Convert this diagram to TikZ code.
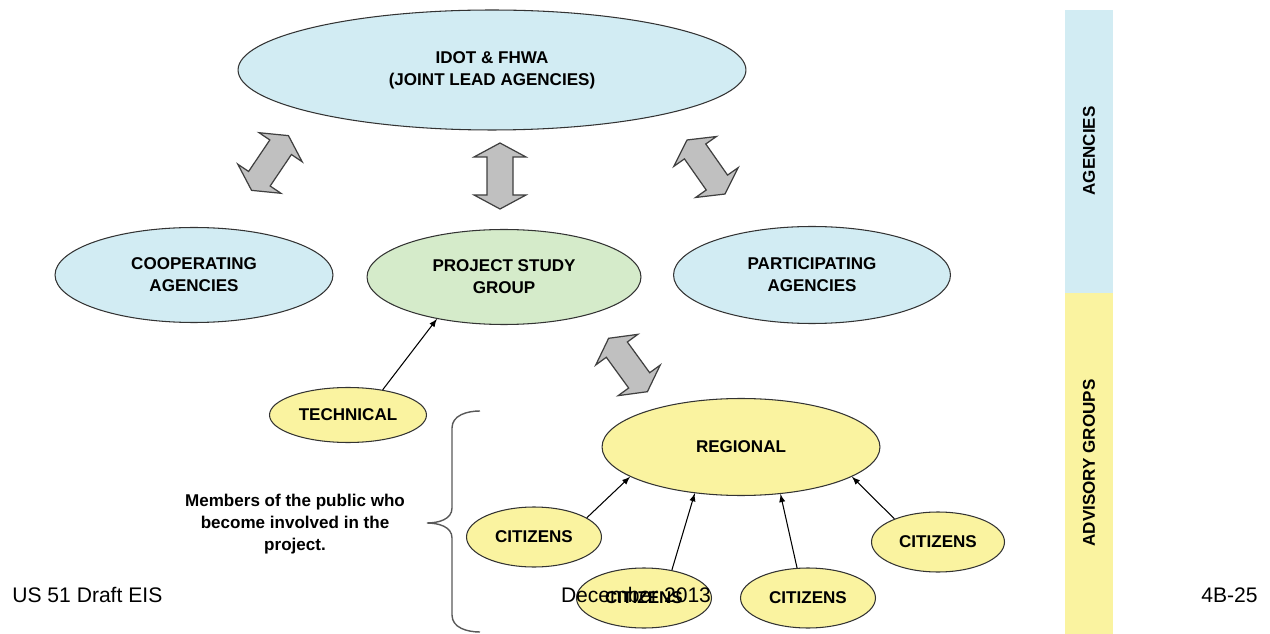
\documentclass[tikz,border=0pt]{standalone}
\usepackage{fontspec}
\setmainfont{Liberation Sans}
\usetikzlibrary{positioning,shapes.geometric}

\definecolor{agencyblue}{RGB}{210,236,243}
\definecolor{advisoryyellow}{RGB}{250,243,160}
\definecolor{studygreen}{RGB}{213,235,202}
\definecolor{arrowgray}{RGB}{192,192,192}

\tikzset{
  group/.style={ellipse,draw=black!80,line width=0.6pt,align=center,inner sep=0pt,
    font=\fontsize{9.7}{12.5}\selectfont\bfseries},
  agency/.style={group,fill=agencyblue},
  advisory/.style={group,fill=advisoryyellow},
  twoway/.pic={\draw[fill=arrowgray,draw=black!75,line width=0.7pt]
    (-33,0) -- (-19,26) -- (-19,13) -- (19,13) -- (19,26) -- (33,0)
    -- (19,-26) -- (19,-13) -- (-19,-13) -- (-19,-26) -- cycle;}
}

\begin{document}
\begin{tikzpicture}[x=0.02cm,y=-0.02cm]
    \useasboundingbox (0,0) rectangle (1270,634);

    % side bars
    \fill[agencyblue] (1065,10) rectangle (1113,293);
    \fill[advisoryyellow] (1065,293) rectangle (1113,634);
    \node[rotate=90,font=\fontsize{9.7}{12}\selectfont\bfseries] (agencies) at (1089,151) {AGENCIES};
    \node[rotate=90,font=\fontsize{9.7}{12}\selectfont\bfseries] (advisorygroups) at (1089,463) {ADVISORY GROUPS};

    \node[agency,minimum width=10.16cm,minimum height=2.4cm] (idot) at (492,70) {IDOT \& FHWA\\(JOINT LEAD AGENCIES)};
    \node[agency,minimum width=5.56cm,minimum height=1.9cm] (coop) at (194,275) {COOPERATING\\AGENCIES};
    \node[group,fill=studygreen,minimum width=5.48cm,minimum height=1.9cm] (study) at (504,277) {PROJECT STUDY\\GROUP};
    \node[agency,minimum width=5.54cm,minimum height=1.94cm] (partic) at (812,275) {PARTICIPATING\\AGENCIES};

    \node[advisory,minimum width=3.14cm,minimum height=1.1cm] (tech) at (348,415) {TECHNICAL};
    \node[advisory,minimum width=5.56cm,minimum height=1.94cm] (regional) at (741,447) {REGIONAL};
    \node[advisory,minimum width=2.7cm,minimum height=1.2cm] (cit1) at (534,537) {CITIZENS};
    \node[advisory,minimum width=2.7cm,minimum height=1.2cm] (cit2) at (644,598) {CITIZENS};
    \node[advisory,minimum width=2.7cm,minimum height=1.2cm] (cit3) at (808,598) {CITIZENS};
    \node[advisory,minimum width=2.66cm,minimum height=1.2cm] (cit4) at (938,542) {CITIZENS};

    % block arrows
    \pic[rotate=56] at (270,163) {twoway};
    \pic[rotate=90] at (500,176) {twoway};
    \pic[rotate=-55] at (706,167) {twoway};
    \pic[rotate=-54] at (628,365) {twoway};

    \draw[-latex,line width=0.6pt] (tech.36) -- (study.212);
    \draw[-latex,line width=0.6pt] (cit1.20) -- (regional.195);
    \draw[-latex,line width=0.6pt] (cit2.45) -- (regional.225);
    \draw[-latex,line width=0.6pt] (cit3.110) -- (regional.310);
    \draw[-latex,line width=0.6pt] (cit4.152) -- (regional.345);

    % brace
    \draw[black!65,line width=0.8pt] (480,411) to[out=180,in=90] (452,428) -- (452,508)
      to[out=270,in=0] (427,523) to[out=0,in=90] (452,538) -- (452,615)
      to[out=270,in=180] (480,632);
    \node[align=center,font=\fontsize{9.7}{12.5}\selectfont\bfseries] (public) at (295,524)
      {Members of the public who\\become involved in the\\project.};

    % footer
    \node[anchor=base west,inner sep=0pt,font=\fontsize{12}{14}\selectfont] (eis) at (12,602) {US 51 Draft EIS};
    \node[anchor=base,inner sep=0pt,font=\fontsize{12}{14}\selectfont] (date) at (636,602) {December 2013};
    \node[anchor=base east,inner sep=0pt,font=\fontsize{12}{14}\selectfont] (page) at (1258,602) {4B-25};
\end{tikzpicture}
\end{document}
